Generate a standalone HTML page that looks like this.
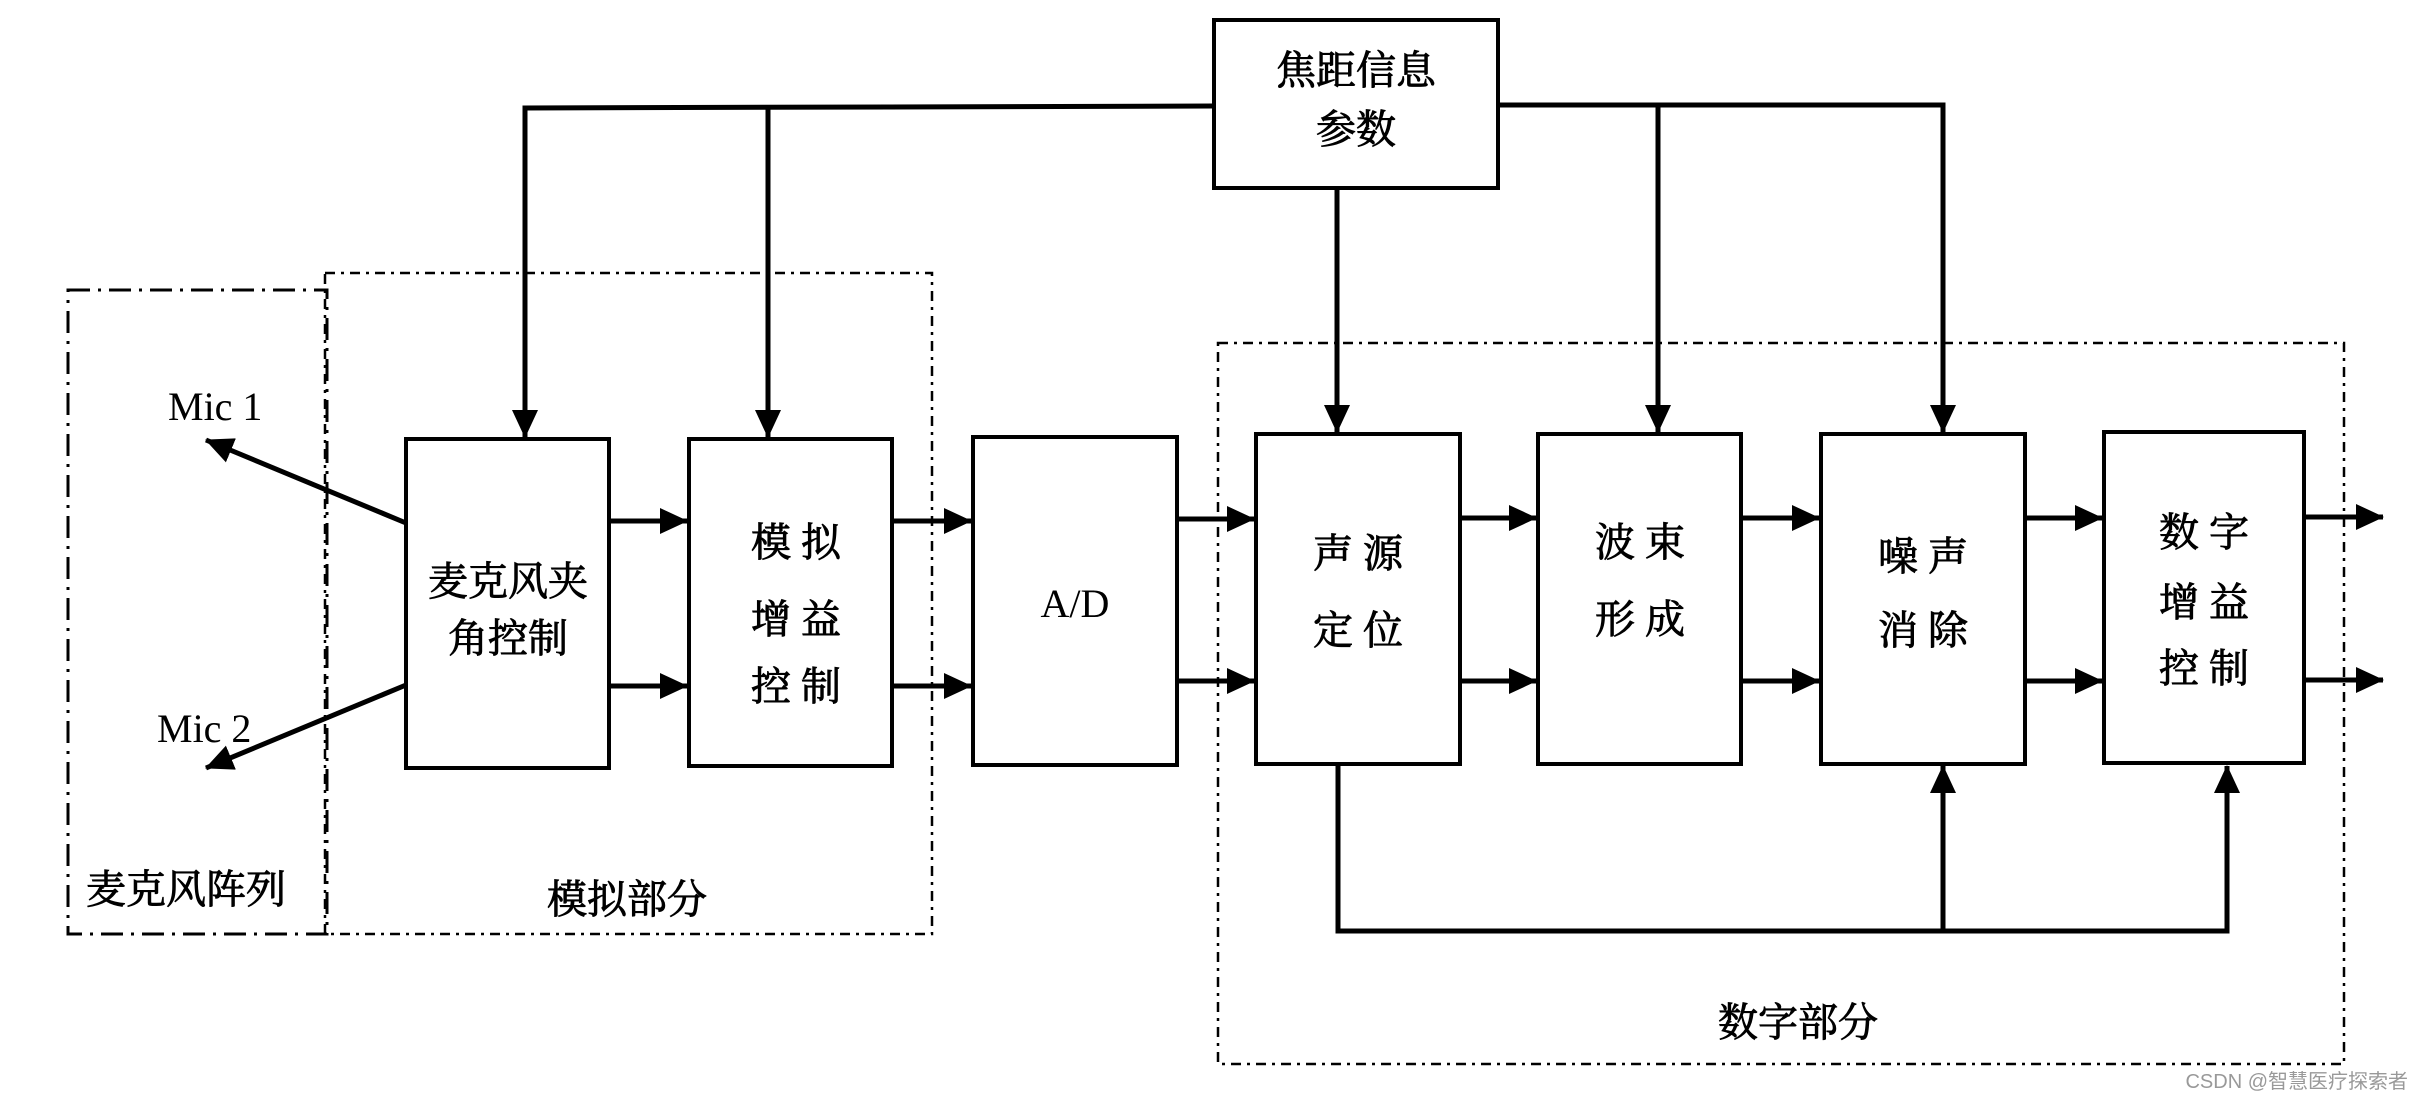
<!DOCTYPE html>
<html><head><meta charset="utf-8"><style>
html,body{margin:0;padding:0;background:#fff;}
svg{display:block;}
text{font-family:"Liberation Serif","Noto Serif CJK SC","Noto Sans CJK SC",serif;fill:#000;}
.cn{font-size:40px;stroke:#000;stroke-width:0.9px;}
</style></head><body>
<svg width="2412" height="1097" viewBox="0 0 2412 1097" xmlns="http://www.w3.org/2000/svg">
<defs>
<marker id="ah" markerWidth="28" markerHeight="26" refX="27" refY="13" orient="auto" markerUnits="userSpaceOnUse">
<path d="M0,0 L28,13 L0,26 Z" fill="#000"/>
</marker>
</defs>
<g fill="none" stroke="#000">
<rect x="68" y="290" width="259" height="644" stroke-width="3" stroke-dasharray="22,8,3,8"/>
<rect x="325" y="273" width="607" height="661" stroke-width="2.5" stroke-dasharray="10,6,3,6"/>
<rect x="1218" y="343" width="1126" height="721" stroke-width="2.5" stroke-dasharray="10,6,3,6"/>
<g stroke-width="4">
<rect x="406" y="439" width="203" height="329"/>
<rect x="689" y="439" width="203" height="327"/>
<rect x="973" y="437" width="204" height="328"/>
<rect x="1214" y="20" width="284" height="168"/>
<rect x="1256" y="434" width="204" height="330"/>
<rect x="1538" y="434" width="203" height="330"/>
<rect x="1821" y="434" width="204" height="330"/>
<rect x="2104" y="432" width="200" height="331"/>
</g>
<g stroke-width="5">
<polyline points="1214,106 525,108 525,437" marker-end="url(#ah)"/>
<line x1="768" y1="108" x2="768" y2="437" marker-end="url(#ah)"/>
<polyline points="1498,105 1943,105 1943,432" marker-end="url(#ah)"/>
<line x1="1658" y1="105" x2="1658" y2="432" marker-end="url(#ah)"/>
<line x1="1337" y1="188" x2="1337" y2="432" marker-end="url(#ah)"/>
<line x1="406" y1="523" x2="206" y2="440" marker-end="url(#ah)"/>
<line x1="406" y1="685" x2="206" y2="768" marker-end="url(#ah)"/>
<line x1="609" y1="521" x2="687" y2="521" marker-end="url(#ah)"/>
<line x1="609" y1="686" x2="687" y2="686" marker-end="url(#ah)"/>
<line x1="892" y1="521" x2="971" y2="521" marker-end="url(#ah)"/>
<line x1="892" y1="686" x2="971" y2="686" marker-end="url(#ah)"/>
<line x1="1177" y1="519" x2="1254" y2="519" marker-end="url(#ah)"/>
<line x1="1177" y1="681" x2="1254" y2="681" marker-end="url(#ah)"/>
<line x1="1460" y1="518" x2="1536" y2="518" marker-end="url(#ah)"/>
<line x1="1460" y1="681" x2="1536" y2="681" marker-end="url(#ah)"/>
<line x1="1741" y1="518" x2="1819" y2="518" marker-end="url(#ah)"/>
<line x1="1741" y1="681" x2="1819" y2="681" marker-end="url(#ah)"/>
<line x1="2025" y1="518" x2="2102" y2="518" marker-end="url(#ah)"/>
<line x1="2025" y1="681" x2="2102" y2="681" marker-end="url(#ah)"/>
<line x1="2304" y1="517" x2="2383" y2="517" marker-end="url(#ah)"/>
<line x1="2304" y1="680" x2="2383" y2="680" marker-end="url(#ah)"/>
<polyline points="1338,764 1338,931 2227,931 2227,766" marker-end="url(#ah)"/>
<line x1="1943" y1="931" x2="1943" y2="766" marker-end="url(#ah)"/>
</g>
</g>
<text x="168" y="420" font-size="40">Mic 1</text>
<text x="157" y="742" font-size="40">Mic 2</text>
<text x="1075" y="617" font-size="40" text-anchor="middle">A/D</text>
<g class="cn" text-anchor="middle">
<text x="508" y="595">麦克风夹</text>
<text x="508" y="652">角控制</text>
<text x="796" y="556">模 拟</text>
<text x="796" y="633">增 益</text>
<text x="796" y="700">控 制</text>
<text x="1356" y="84">焦距信息</text>
<text x="1356" y="143">参数</text>
<text x="1358" y="567">声 源</text>
<text x="1358" y="644">定 位</text>
<text x="1640" y="556">波 束</text>
<text x="1640" y="633">形 成</text>
<text x="1923" y="570">噪 声</text>
<text x="1923" y="644">消 除</text>
<text x="2204" y="546">数 字</text>
<text x="2204" y="616">增 益</text>
<text x="2204" y="682">控 制</text>
<text x="627" y="913">模拟部分</text>
<text x="1798" y="1036">数字部分</text>
</g>
<text x="86" y="903" class="cn">麦克风阵列</text>
<text x="2408" y="1088" font-size="20" text-anchor="end" style="font-family:'Liberation Sans','Noto Sans CJK SC',sans-serif;fill:#999">CSDN @智慧医疗探索者</text>
</svg>
</body></html>
